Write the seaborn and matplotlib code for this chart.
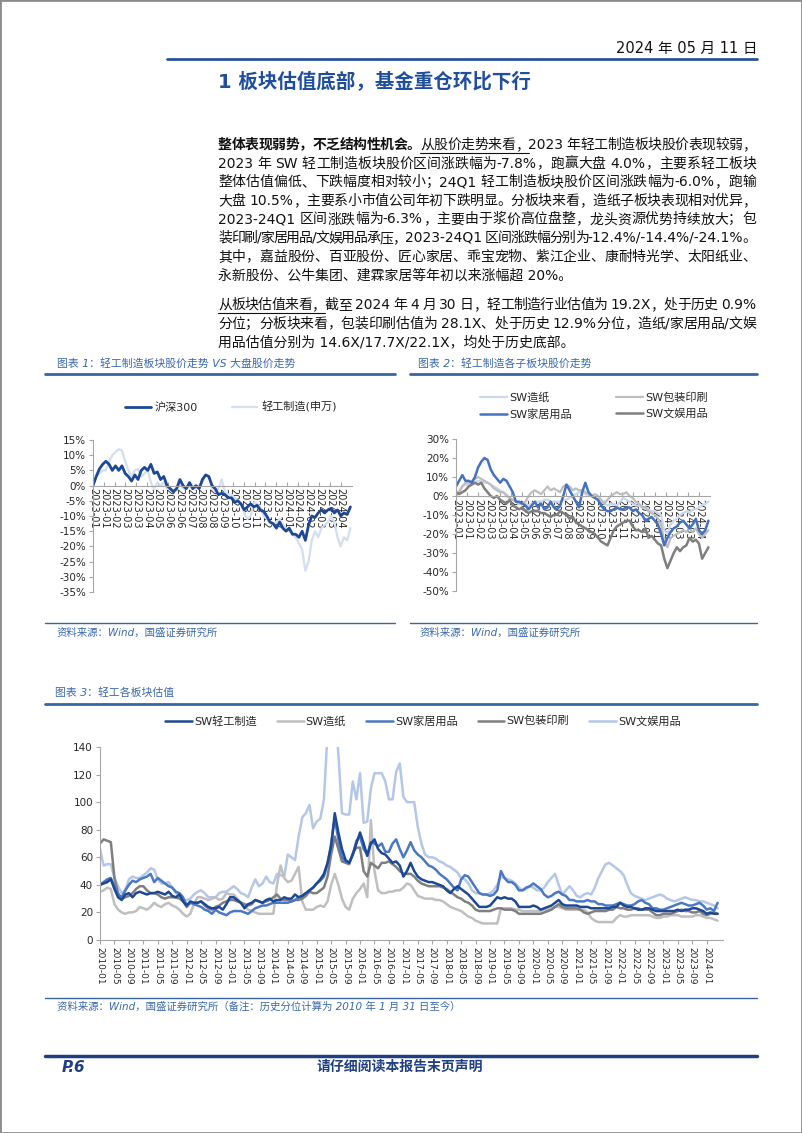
import re
import numpy as np
import pandas as pd
import seaborn as sns
import matplotlib.pyplot as plt
from matplotlib.lines import Line2D
from matplotlib.patches import Rectangle

# ---- chart 1: 轻工制造 vs 沪深300 (%, ~5 points per month, 2023-01 .. 2024-04)
hs300 = [0, 3, 5.5, 7, 8, 7, 5, 6.5, 5, 6.5, 4, 3, 1.5, 3.5, 2, 5, 6, 5, 7, 4,
         4.5, 2, 3, 0, -1, -2, -1, 2, 0, -1, 1, -1, 0, -1, 2, 3.5, 3, 0, -1, -3,
         -2.5, -3, -4, -4, -5.5, -5, -6, -8, -7, -6, -7, -6.5, -8, -8.5, -10, -12, -12.5, -14, -12, -14,
         -15, -14, -16, -16, -17, -15, -18, -13, -10, -10.5, -9, -8, -9, -8, -7.5, -9, -8, -10, -9, -9.5, -7]
light_ind = [0, 3, 4, 5, 5, 8, 10, 11, 12, 11.5, 8, 5, 3, 5, 5.5, 3, 4, 5, 1, -1,
             1, 0, 1, -1, -1, -2, -1.5, 1, -1, -1, 0, -1, -1, 0, 1, 3.5, 3, -1, -2, -1,
             2, -2, -3, -3, -4, -5, -6, -9, -11, -10, -5.5, -6, -7, -10, -11, -12, -13, -12, -11, -13,
             -14, -15, -16, -17, -19, -21, -28, -25, -18, -15, -17, -14, -13, -12, -10, -12, -17, -20, -17, -18, -14]
tick1 = ["2023-01", "2023-01", "2023-02", "2023-03", "2023-03", "2023-04", "2023-05", "2023-06",
         "2023-06", "2023-07", "2023-08", "2023-08", "2023-09", "2023-10", "2023-10", "2023-11",
         "2023-12", "2023-12", "2024-01", "2024-02", "2024-02", "2024-03", "2024-03", "2024-04"]

# ---- chart 2: sub sectors (%)
sw_paper = [0, 3, 5, 6, 6, 7, 7, 8, 8, 7, 7, 6, 5, 4, 3, 2, 1, -1, -2, -3,
            -4, -4, -4, -5, -4, -3, -3, -3, -2, -2, -3, -3, -3, -3, -2, -2, -1, 0, 1, 2,
            2, 1, 0, 0, -1, -2, -3, -4, -5, -4, -4, -5, -3, -1, -2, -3, -4, -5, -5, -6,
            -6, -7, -8, -8, -9, -10, -18, -20, -15, -13, -12, -10, -9, -8, -9, -7, -7, -6, -5, -4, -3]
sw_pack = [0, 2, 5, 7, 7, 8, 9, 10, 9, 8, 7, 6, 4, 3, 2, 2, 0, -1, -2, -3,
           -4, -4, -3, 0, 2, 3, 2, 1, 3, 5, 3, 4, 3, 2, 5, 6, 5, 3, 4, 3,
           3, 2, 1, 0, 1, 0, -2, -4, -2, 0, 1, 2, 1, 1, 2, 0, -1, -3, -4, -6,
           -6, -8, -9, -10, -12, -15, -24, -27, -22, -21, -20, -19, -18, -19, -17, -19, -17, -20, -22, -20, -18]
sw_home = [5, 8, 11, 8, 8, 7, 10, 15, 18, 20, 19, 14, 11, 9, 7, 9, 8, 5, 2, -3,
           -3, -4, -5, -7, -5, -3, -6, -4, -7, -6, -3, -6, -7, -5, 0, 6, 3, 0, -3, -6,
           2, 7, 2, 0, -1, -2, -5, -7, -8, -8, -7, -6, -7, -7, -6, -6, -8, -7, -9, -10,
           -13, -12, -11, -13, -15, -20, -26, -22, -19, -17, -16, -14, -13, -15, -17, -15, -12, -18, -20, -18, -13]
sw_leisure = [2, 1, 2, 3, 5, 6, 7, 6, 7, 4, 2, 0, -1, 0, -2, -3, -4, -2, -5, -6,
              -7, -6, -8, -9, -8, -8, -8, -9, -9, -10, -11, -10, -10, -8, -9, -10, -12, -11, -14, -15,
              -16, -17, -18, -19, -20, -22, -24, -25, -26, -22, -18, -16, -15, -14, -13, -13, -16, -18, -18, -19,
              -17, -22, -21, -23, -25, -26, -33, -38, -34, -30, -27, -29, -27, -26, -22, -24, -23, -25, -33, -30, -27]
tick2 = ["2023-01", "2023-01", "2023-02", "2023-03", "2023-03", "2023-04", "2023-05", "2023-06",
         "2023-06", "2023-07", "2023-08", "2023-08", "2023-09", "2023-10", "2023-11", "2023-11",
         "2023-12", "2024-01", "2024-01", "2024-02", "2024-03", "2024-03", "2024-04"]

# ---- chart 3: PE by sector, monthly 2010-01 .. 2024-04
pe_light = [40, 41, 42, 44, 37, 31, 29, 33, 34, 31, 34, 35,
            34, 33, 34, 34, 35, 34, 33, 35, 32, 31, 33, 28,
            25, 28, 27, 27, 28, 26, 24, 23, 23, 24, 22, 26,
            31, 31, 29, 27, 23, 26, 27, 29, 28, 27, 29, 30,
            28, 29, 29, 31, 30, 30, 33, 31, 32, 34, 36, 38,
            41, 44, 48, 56, 68, 92, 78, 66, 58, 56, 62, 70,
            78, 70, 61, 70, 73, 66, 63, 62, 59, 56, 57, 54,
            46, 50, 56, 50, 46, 44, 43, 42, 42, 41, 40, 39,
            36, 34, 37, 39, 37, 35, 33, 30, 27, 24, 24, 24,
            25, 28, 31, 30, 31, 30, 30, 28, 24, 24, 24, 24,
            25, 24, 22, 23, 24, 25, 27, 29, 26, 25, 25, 25,
            25, 24, 24, 24, 23, 23, 23, 23, 23, 23, 24, 24,
            27, 25, 24, 24, 23, 22, 22, 23, 23, 22, 21, 21,
            21, 21, 21, 21, 22, 21, 22, 22, 23, 23, 22, 21,
            19, 20, 19, 19]
pe_paper = [35, 36, 38, 37, 26, 22, 20, 19, 20, 20, 21, 24,
            23, 22, 24, 27, 25, 24, 26, 27, 25, 24, 22, 19,
            17, 19, 26, 31, 31, 30, 29, 30, 31, 29, 30, 34,
            33, 33, 30, 27, 25, 22, 21, 20, 19, 19, 19, 19,
            19, 40, 54, 45, 42, 43, 48, 53, 28, 22, 22, 22,
            24, 25, 24, 28, 40, 48, 40, 30, 24, 22, 30, 34,
            37, 41, 31, 87, 50, 36, 34, 34, 35, 35, 36, 36,
            38, 41, 40, 36, 32, 31, 30, 30, 30, 29, 29, 28,
            26, 24, 23, 22, 21, 19, 17, 16, 14, 13, 12, 12,
            12, 12, 12, 23, 23, 23, 23, 22, 22, 21, 21, 21,
            21, 21, 21, 22, 22, 23, 24, 24, 23, 22, 22, 22,
            22, 22, 22, 20, 16, 14, 13, 13, 13, 13, 13, 16,
            18, 17, 17, 18, 18, 18, 18, 18, 18, 17, 16, 16,
            17, 17, 18, 18, 18, 17, 17, 17, 17, 18, 18, 17,
            16, 16, 15, 14]
pe_home = [40, 42, 44, 45, 39, 33, 31, 36, 40, 43, 42, 44,
           45, 46, 48, 42, 45, 43, 41, 39, 38, 35, 34, 31,
           25, 27, 26, 25, 24, 22, 21, 19, 22, 20, 19, 18,
           20, 21, 21, 21, 20, 19, 21, 23, 24, 25, 25, 26,
           27, 27, 27, 27, 27, 28, 29, 31, 32, 34, 36, 38,
           41, 43, 46, 55, 70, 88, 73, 60, 57, 56, 62, 72,
           75, 66, 62, 71, 70, 68, 70, 64, 64, 70, 73, 66,
           60, 65, 71, 65, 62, 60, 57, 54, 53, 51, 48, 46,
           44, 41, 38, 36, 44, 47, 46, 42, 38, 34, 33, 33,
           32, 33, 36, 50, 45, 42, 42, 40, 36, 36, 38, 39,
           41, 39, 37, 33, 31, 32, 34, 35, 33, 32, 29, 29,
           28, 28, 28, 29, 28, 28, 26, 26, 25, 25, 25, 26,
           27, 26, 25, 25, 26, 28, 29, 27, 26, 23, 23, 22,
           22, 23, 24, 25, 26, 27, 26, 25, 25, 26, 27, 25,
           22, 23, 21, 27]
pe_pack = [70, 73, 72, 71, 45, 34, 30, 31, 32, 34, 37, 39,
           39, 36, 34, 34, 33, 31, 30, 31, 31, 31, 30, 28,
           24, 27, 27, 27, 28, 25, 23, 22, 24, 25, 27, 28,
           29, 29, 28, 27, 26, 25, 26, 29, 28, 27, 28, 29,
           31, 33, 30, 29, 29, 28, 29, 29, 30, 32, 35, 34,
           34, 36, 38, 46, 62, 75, 66, 57, 56, 55, 63, 67,
           67, 50, 46, 56, 54, 52, 56, 56, 57, 55, 53, 50,
           48, 48, 48, 46, 43, 41, 40, 39, 39, 39, 39, 38,
           37, 35, 33, 31, 30, 28, 27, 25, 22, 21, 21, 21,
           21, 22, 23, 23, 22, 22, 22, 21, 19, 19, 19, 19,
           19, 19, 19, 20, 21, 22, 24, 26, 24, 23, 23, 23,
           23, 22, 20, 19, 20, 21, 21, 21, 21, 22, 22, 24,
           23, 23, 22, 22, 23, 23, 22, 22, 22, 20, 18, 18,
           19, 19, 19, 20, 21, 22, 21, 21, 20, 20, 21, 19,
           18, 19, 20, 19]
pe_leisure = [66, 54, 55, 55, 45, 39, 34, 36, 44, 46, 45, 45,
              47, 49, 52, 51, 44, 41, 41, 42, 38, 34, 33, 28,
              29, 30, 33, 35, 36, 34, 31, 31, 31, 34, 35, 35,
              37, 39, 37, 34, 33, 31, 38, 44, 39, 41, 46, 42,
              41, 48, 47, 46, 62, 60, 58, 75, 89, 92, 98, 81,
              86, 88, 102, 150, 185, 170, 135, 92, 91, 91, 115, 102,
              121, 85, 86, 110, 121, 121, 121, 115, 102, 102, 122, 128,
              104, 100, 100, 100, 82, 70, 62, 60, 60, 59, 57, 56,
              54, 53, 51, 49, 45, 44, 41, 36, 34, 34, 33, 33,
              34, 36, 40, 46, 45, 44, 43, 41, 38, 36, 37, 39,
              38, 36, 36, 38, 42, 45, 48, 40, 33, 36, 39, 36,
              32, 31, 33, 34, 33, 38, 45, 50, 55, 56, 54, 52,
              50, 47, 40, 34, 32, 31, 30, 29, 30, 31, 32, 33,
              32, 30, 29, 28, 29, 30, 31, 30, 29, 29, 28, 28,
              27, 26, 25, 23]

W, H = 802, 1133
BLUE_TXT = "#3a68ad"
NAVY = "#1f3f80"

sns.set_theme(style="white")
plt.rcParams['font.family'] = ['DejaVu Sans', 'Noto Sans CJK SC']
plt.rcParams['axes.unicode_minus'] = False

fig = plt.figure(figsize=(W / 100, H / 100), dpi=100)
renderer = fig.canvas.get_renderer()


def fx(x):
    return x / W


def fy(y):
    return 1 - y / H


def box(left, top, right, bottom):
    return [fx(left), fy(bottom), (right - left) / W, (bottom - top) / H]


def hline(x0, x1, y, color, lw):
    fig.add_artist(Line2D([fx(x0), fx(x1)], [fy(y), fy(y)], color=color, lw=lw))


def put_line(parts, y, left=218, right=756, size=10):
    """Draw one justified paragraph line from (text, bold, underline) parts."""
    items = []
    for text, bold, ul in parts:
        for t in re.findall(r'[!-~]+| |[^\x00-\x7f]', text):
            if t == ' ':
                items.append([None, size * 1.389 * 0.3, ul])
                continue
            txt = fig.text(0, fy(y), t, fontsize=size, color='#111111',
                           fontweight='bold' if bold else 'normal', va='center', ha='left')
            items.append([txt, txt.get_window_extent(renderer).width, ul])
    total = sum(i[1] for i in items)
    gap = (right - left - total) / (len(items) - 1)
    x = left
    ul_x = None
    for txt, w, ul in items:
        if txt is not None:
            txt.set_x(fx(x))
        if ul and ul_x is None:
            ul_x = x
        if not ul and ul_x is not None:
            hline(ul_x, x - gap, y + 8, '#111111', 0.8)
            ul_x = None
        x += w + gap
    if ul_x is not None:
        hline(ul_x, x - gap, y + 8, '#111111', 0.8)


# ---- page frame and header
fig.add_artist(Rectangle((0, 0), 1, 1, transform=fig.transFigure, fill=False, ec='#8c8c8c', lw=2))
fig.text(fx(757), fy(48), "2024 年 05 月 11 日", fontsize=10.5, ha='right', va='center', color='#111111')
hline(167, 757, 59, '#2a5298', 2)
fig.text(fx(218), fy(82), "1 板块估值底部，基金重仓环比下行", fontsize=14, fontweight='bold',
         ha='left', va='center', color='#1f4e9c')

# ---- body text
para1 = [
    [("整体表现弱势，不乏结构性机会。", True, False), ("从股价走势来看，", False, True),
     ("2023 年轻工制造板块股价表现较弱，", False, False)],
    [("2023 年 SW 轻工制造板块股价区间涨跌幅为-7.8%，跑赢大盘 4.0%，主要系轻工板块", False, False)],
    [("整体估值偏低、下跌幅度相对较小；24Q1 轻工制造板块股价区间涨跌幅为-6.0%，跑输", False, False)],
    [("大盘 10.5%，主要系小市值公司年初下跌明显。分板块来看，造纸子板块表现相对优异，", False, False)],
    [("2023-24Q1 区间涨跌幅为-6.3%，主要由于浆价高位盘整，龙头资源优势持续放大；包", False, False)],
    [("装印刷/家居用品/文娱用品承压，2023-24Q1 区间涨跌幅分别为-12.4%/-14.4%/-24.1%。", False, False)],
    [("其中，嘉益股份、百亚股份、匠心家居、乖宝宠物、紫江企业、康耐特光学、太阳纸业、", False, False)],
]
for i, parts in enumerate(para1):
    put_line(parts, 145 + 18.6 * i)
fig.text(fx(218), fy(145 + 18.6 * 7), "永新股份、公牛集团、建霖家居等年初以来涨幅超 20%。",
         fontsize=10, ha='left', va='center', color='#111111')

para2 = [
    [("从板块估值来看，", False, True), ("截至 2024 年 4 月 30 日，轻工制造行业估值为 19.2X，处于历史 0.9%", False, False)],
    [("分位；分板块来看，包装印刷估值为 28.1X、处于历史 12.9%分位，造纸/家居用品/文娱", False, False)],
]
for i, parts in enumerate(para2):
    put_line(parts, 305 + 18.6 * i)
fig.text(fx(218), fy(305 + 18.6 * 2), "用品估值分别为 14.6X/17.7X/22.1X，均处于历史底部。",
         fontsize=10, ha='left', va='center', color='#111111')

# ---- captions and rules
cap_kw = dict(fontsize=7.8, style='italic', color=BLUE_TXT, ha='left', va='center')
fig.text(fx(57), fy(363), "图表 1：轻工制造板块股价走势 VS 大盘股价走势", **cap_kw)
fig.text(fx(418), fy(363), "图表 2：轻工制造各子板块股价走势", **cap_kw)
fig.text(fx(55), fy(693), "图表 3：轻工各板块估值", **cap_kw)
hline(45, 395, 374, '#3a65a5', 2)
hline(410, 757, 374, '#3a65a5', 2)
hline(45, 757, 704, '#3a65a5', 2)
hline(45, 395, 623, '#3a65a5', 1)
hline(410, 757, 623, '#3a65a5', 1)
hline(45, 757, 998, '#3a65a5', 1)
src_kw = dict(fontsize=7.5, style='italic', color=BLUE_TXT, ha='left', va='center')
fig.text(fx(57), fy(633), "资料来源：Wind，国盛证券研究所", **src_kw)
fig.text(fx(420), fy(633), "资料来源：Wind，国盛证券研究所", **src_kw)
fig.text(fx(57), fy(1007), "资料来源：Wind，国盛证券研究所（备注：历史分位计算为 2010 年 1 月 31 日至今）", **src_kw)

# ---- footer
hline(45, 757, 1056, NAVY, 2.5)
fig.text(fx(62), fy(1067), "P.6", fontsize=11, fontweight='bold', style='italic', color=NAVY,
         ha='left', va='center')
fig.text(fx(400), fy(1067), "请仔细阅读本报告末页声明", fontsize=10, fontweight='bold', style='italic',
         color=NAVY, ha='center', va='center')


def style_axes(ax, ylim, yticks, xlim):
    ax.set_facecolor('none')
    ax.set_ylim(*ylim)
    ax.set_xlim(*xlim)
    ax.set_yticks(yticks)
    for s in ['top', 'right']:
        ax.spines[s].set_visible(False)
    for s in ['left', 'bottom']:
        ax.spines[s].set_color('#a6a6a6')
        ax.spines[s].set_linewidth(0.8)
    ax.tick_params(axis='y', direction='out', length=3, width=0.8, color='#a6a6a6',
                   labelsize=7.5, pad=2, left=True)
    ax.set_xlabel('')
    ax.set_ylabel('')


# ---- chart 1
ax1 = fig.add_axes(box(93, 440, 352, 592))
x1 = np.arange(len(hs300))
sns.lineplot(x=x1, y=light_ind, ax=ax1, color='#d3deef', lw=1.6, label='轻工制造(申万)')
sns.lineplot(x=x1, y=hs300, ax=ax1, color='#1d4896', lw=2, label='沪深300')
style_axes(ax1, (-35, 15), range(-35, 16, 5), (0, len(hs300) - 0.5))
ax1.set_yticklabels([f"{v}%" for v in range(-35, 16, 5)])
ax1.spines['bottom'].set_position(('data', 0))
ax1.set_xticks(np.linspace(0, 77, len(tick1)))
ax1.set_xticklabels(tick1, rotation=-90, fontsize=7)
ax1.tick_params(axis='x', direction='in', length=3, width=0.8, color='#a6a6a6', pad=2, bottom=True)
h, l = ax1.get_legend_handles_labels()
ax1.legend(h[::-1], l[::-1], loc='center', bbox_to_anchor=(fx(231), fy(407)),
           bbox_transform=fig.transFigure, ncol=2, frameon=False, fontsize=8,
           handlelength=2.3, handletextpad=0.4, columnspacing=3.0)

# ---- chart 2
ax2 = fig.add_axes(box(456, 439, 710, 591))
x2 = np.arange(len(sw_home))
sns.lineplot(x=x2, y=sw_paper, ax=ax2, color='#c9d8ee', lw=1.6, label='SW造纸')
sns.lineplot(x=x2, y=sw_pack, ax=ax2, color='#bdbdbd', lw=1.6, label='SW包装印刷')
sns.lineplot(x=x2, y=sw_leisure, ax=ax2, color='#7f7f7f', lw=1.8, label='SW文娱用品')
sns.lineplot(x=x2, y=sw_home, ax=ax2, color='#4472c0', lw=1.8, label='SW家居用品')
style_axes(ax2, (-50, 30), range(-50, 31, 10), (0, len(sw_home) - 0.5))
ax2.set_yticklabels([f"{v}%" for v in range(-50, 31, 10)])
ax2.spines['bottom'].set_position(('data', 0))
ax2.set_xticks(np.linspace(0, 77, len(tick2)))
ax2.set_xticklabels(tick2, rotation=-90, fontsize=7)
ax2.tick_params(axis='x', direction='in', length=3, width=0.8, color='#a6a6a6', pad=2, bottom=True)
h, l = ax2.get_legend_handles_labels()
order = [0, 3, 1, 2]
ax2.legend([h[i] for i in order], [l[i] for i in order], loc='center',
           bbox_to_anchor=(fx(594), fy(406)), bbox_transform=fig.transFigure, ncol=2,
           frameon=False, fontsize=8, handlelength=2.4, handletextpad=0.2,
           columnspacing=4.0, labelspacing=0.55)

# ---- chart 3
ax3 = fig.add_axes(box(100, 747, 723, 940))
months = pd.date_range('2010-01-01', periods=len(pe_light), freq='MS')
x3 = np.arange(len(months))
sns.lineplot(x=x3, y=pe_leisure, ax=ax3, color='#b4c7e7', lw=1.8, label='SW文娱用品')
sns.lineplot(x=x3, y=pe_paper, ax=ax3, color='#bfbfbf', lw=1.8, label='SW造纸')
sns.lineplot(x=x3, y=pe_pack, ax=ax3, color='#7f7f7f', lw=1.8, label='SW包装印刷')
sns.lineplot(x=x3, y=pe_home, ax=ax3, color='#4a78c2', lw=1.8, label='SW家居用品')
sns.lineplot(x=x3, y=pe_light, ax=ax3, color='#1d4896', lw=1.8, label='SW轻工制造')
style_axes(ax3, (0, 140), range(0, 141, 20), (0, len(months) + 0.5))
ax3.set_xticks(x3[::4])
ax3.set_xticklabels(months[::4].strftime('%Y-%m'), rotation=-90, fontsize=6.5)
ax3.tick_params(axis='x', direction='out', length=3, width=0.8, color='#a6a6a6', pad=2, bottom=True)
h, l = ax3.get_legend_handles_labels()
order = [4, 1, 3, 2, 0]
ax3.legend([h[i] for i in order], [l[i] for i in order], loc='center',
           bbox_to_anchor=(fx(423), fy(721)), bbox_transform=fig.transFigure, ncol=5,
           frameon=False, fontsize=8, handlelength=2.4, handletextpad=0.2, columnspacing=1.8)

fig.savefig('out.png', dpi=100)
